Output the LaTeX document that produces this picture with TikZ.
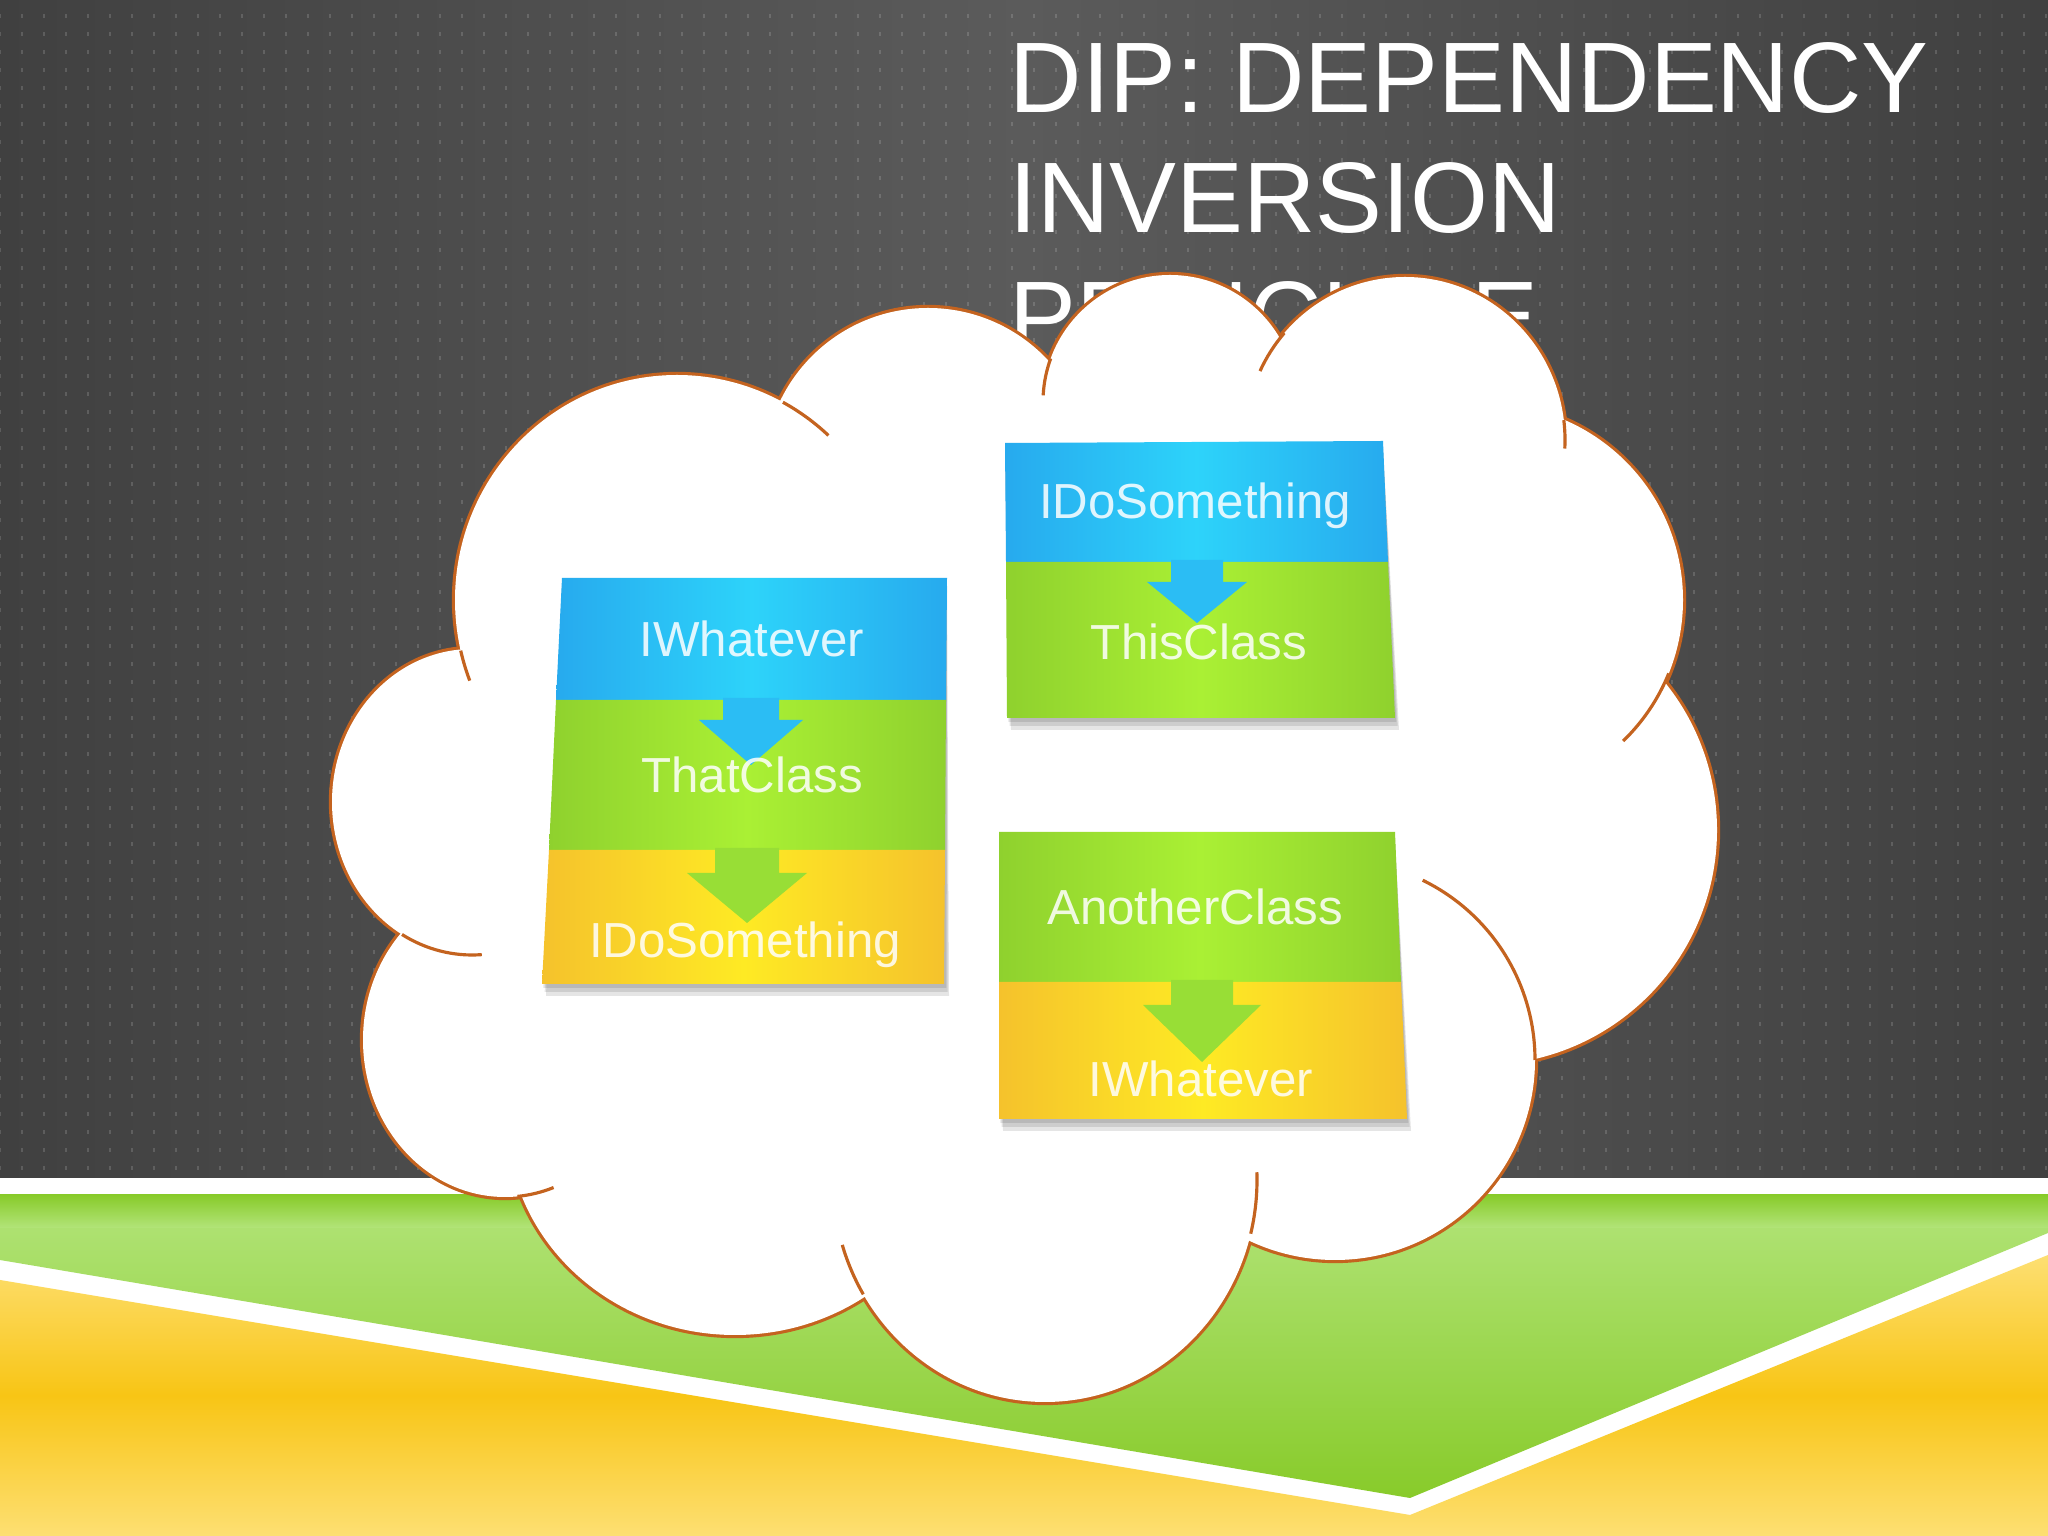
\documentclass[tikz,border=0pt]{standalone}
\usepackage{fontspec}
\setmainfont{Liberation Sans}
\usepackage{xcolor}
\usepackage{tikz}
\definecolor{slatedark}{HTML}{404040}
\definecolor{slatemid}{HTML}{5B5B5B}
\definecolor{cloudedge}{HTML}{C4631F}
\definecolor{bandblue}{HTML}{27AAEE}
\definecolor{bandbluehi}{HTML}{2DD3FA}
\definecolor{bandgreen}{HTML}{8FD12E}
\definecolor{bandgreenhi}{HTML}{AAF034}
\definecolor{bandyellow}{HTML}{F5C22C}
\definecolor{bandyellowhi}{HTML}{FEEA24}
\definecolor{arrowblue}{HTML}{2BBDF4}
\definecolor{arrowgreen}{HTML}{98DE36}
\definecolor{floorgreen}{HTML}{88CB2A}
\definecolor{floorgreenhi}{HTML}{B2E479}
\definecolor{flooryellow}{HTML}{F8C515}
\definecolor{flooryellowhi}{HTML}{FDDF72}
\tikzset{
  slate/.style={left color=slatedark, right color=slatedark, middle color=slatemid},
  dotgrid/.style={draw=white, draw opacity=0.15, line width=0.5pt},
  titletext/.style={text=white, font=\fontsize{28.5}{33.9}\selectfont,
                    inner sep=0pt, anchor=base west},
  lobeedge/.style={draw=cloudedge, line width=1.8pt},
  lobestub/.style={draw=cloudedge, line width=0.9pt},
  blueband/.style={left color=bandblue, right color=bandblue, middle color=bandbluehi},
  greenband/.style={left color=bandgreen, right color=bandgreen, middle color=bandgreenhi},
  yellowband/.style={left color=bandyellow, right color=bandyellow, middle color=bandyellowhi},
  boxshadow/.style={fill=black, fill opacity=0.1},
  classname/.style={text=white, text opacity=0.85, font=\fontsize{14}{16}\selectfont,
                    inner sep=0pt, anchor=base},
}

\begin{document}
\begin{tikzpicture}[x=0.01cm, y=0.01cm]
  \useasboundingbox (0,0) rectangle (2048,1536);
  \shade[slate] (0,358) rectangle (2048,1536);
  \draw[dotgrid] foreach \x in {0,22,...,2046} { foreach \y in {366,384,...,1530} { (\x,\y) -- ++(0,4) } };
  \fill[white] (0,0) rectangle (2048,358);
  \shade[top color=flooryellowhi, bottom color=flooryellowhi, middle color=flooryellow]
    (0,0) -- (2048,0) -- (2048,281) -- (1410,21) -- (0,256) -- cycle;
  \shade[top color=floorgreenhi, bottom color=floorgreen]
    (0,341) -- (2048,341) -- (2048,303) -- (1410,38) -- (0,276) -- cycle;
  \shade[top color=floorgreen, bottom color=floorgreenhi] (0,308) rectangle (2048,341);

  \node[titletext] (title) at (1009,1423)
    {\parbox[t]{12cm}{DIP: DEPENDENCY\\INVERSION\\PRINCIPLE}};

  \foreach \cx/\cy/\rx/\ry in {677/936/222/225, 928/1064/164/164, 1170/1134/127/127,
      1405/1096/160/163, 1487/936/196/196, 1482/706/235/235, 1335/476/200/200,
      1045/356/212/222, 735/416/228/215, 505/496/142/157, 472/734/140/153}
    \draw[lobeedge] (\cx,\cy) ellipse [x radius=\rx, y radius=\ry];
  \fill[white] (677,936) -- (928,1064) -- (1170,1134) -- (1405,1096) -- (1487,936)
    -- (1482,706) -- (1335,476) -- (1045,356) -- (735,416) -- (505,496) -- (472,734) -- cycle;
  \foreach \cx/\cy/\rx/\ry in {677/936/222/225, 928/1064/164/164, 1170/1134/127/127,
      1405/1096/160/163, 1487/936/196/196, 1482/706/235/235, 1335/476/200/200,
      1045/356/212/222, 735/416/228/215, 505/496/142/157, 472/734/140/153}
    \fill[white] (\cx,\cy) ellipse [x radius=\rx, y radius=\ry];
  \foreach \cx/\cy/\rx/\ry/\a/\b in {677/936/222/225/61.5/47, 677/936/222/225/193/201,
      1170/1134/127/127/160/177, 1405/1096/160/163/139/155, 1405/1096/160/163/7/-3,
      1487/936/196/196/-22/-46, 1335/476/200/200/0/64, 1045/356/212/222/-14/2,
      1045/356/212/222/211/197, 505/496/142/157/-85/-70, 472/734/140/153/240/274}
    \draw[lobestub] (\cx,\cy) ++(\a:{\rx} and {\ry})
      arc [start angle=\a, end angle=\b, x radius=\rx, y radius=\ry];

  \foreach \d in {4,8,12}
    \fill[boxshadow] (562,950) -- (947,950) -- (945+\d/3,552-\d) -- (542+\d/3,552-\d) -- cycle;
  \shade[blueband] (562,958) -- (947,958) -- (946,836) -- (556,836) -- cycle;
  \shade[greenband] (556,836) -- (946,836) -- (945,686) -- (549,686) -- cycle;
  \shade[yellowband] (549,686) -- (945,686) -- (944,552) -- (542,552) -- cycle;
  \fill[arrowblue] (723,838) -- (723,816) -- (699,816) -- (751,771) -- (803,816)
    -- (779,816) -- (779,838) -- cycle;
  \fill[arrowgreen] (715,688) -- (715,663) -- (687,663) -- (747,613) -- (807,663)
    -- (779,663) -- (779,688) -- cycle;
  \node[classname] (whatA) at (752,879) {IWhatever};
  \node[classname] (that) at (752,743) {ThatClass};
  \node[classname] (doA) at (745,578) {IDoSomething};

  \foreach \d in {4,8,12}
    \fill[boxshadow] (1005,1085) -- (1383,1087) -- (1395+\d/3,818-\d) -- (1007+\d/3,818-\d) -- cycle;
  \shade[blueband] (1005,1093) -- (1383,1095) -- (1388,974) -- (1006,974) -- cycle;
  \shade[greenband] (1006,974) -- (1388,974) -- (1395,818) -- (1007,818) -- cycle;
  \fill[arrowblue] (1171,976) -- (1171,954) -- (1147,954) -- (1197,913) -- (1247,954)
    -- (1223,954) -- (1223,976) -- cycle;
  \node[classname] (doB) at (1195,1017) {IDoSomething};
  \node[classname] (this) at (1199,876) {ThisClass};

  \foreach \d in {4,8,12}
    \fill[boxshadow] (999,696) -- (1395,696) -- (1407+\d/3,417-\d) -- (999+\d/3,417-\d) -- cycle;
  \shade[greenband] (999,704) -- (1395,704) -- (1401,554) -- (999,554) -- cycle;
  \shade[yellowband] (999,554) -- (1401,554) -- (1407,417) -- (999,417) -- cycle;
  \fill[arrowgreen] (1171,556) -- (1171,531) -- (1143,531) -- (1202,474) -- (1261,531)
    -- (1233,531) -- (1233,556) -- cycle;
  \node[classname] (other) at (1195,611) {AnotherClass};
  \node[classname] (whatB) at (1201,439) {IWhatever};
\end{tikzpicture}
\end{document}
